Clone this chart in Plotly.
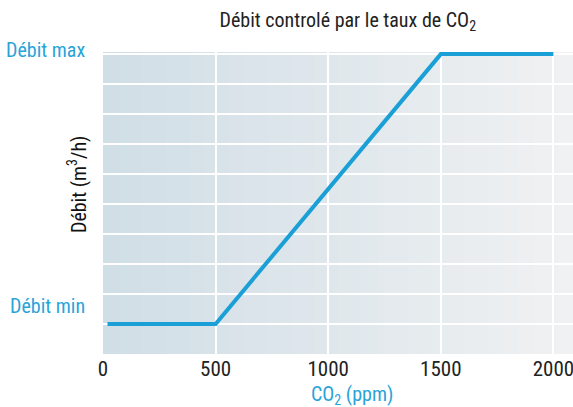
import plotly.graph_objects as go

# Data
co2_ppm = [20, 500, 1500, 2000]
debit = [1, 1, 10, 10]
x_ticks = [0, 500, 1000, 1500, 2000]
y_labels = ["Débit min", "Débit max"]

FONT = "Liberation Sans Narrow, Roboto Condensed, Roboto, sans-serif"
BLUE = "#1a9fd6"
LBLUE = "#2aa3d8"

fig = go.Figure()
fig.add_trace(go.Scatter(x=co2_ppm, y=debit, mode="lines",
                         line=dict(color=BLUE, width=4), hoverinfo="skip"))

# gradient background strips
n = 60
c0 = (208, 222, 230)
c1 = (240, 241, 242)
shapes = []
for i in range(n):
    t = i / (n - 1)
    c = tuple(int(round(c0[k] + (c1[k] - c0[k]) * t)) for k in range(3))
    shapes.append(dict(type="rect", xref="paper", yref="paper",
                       x0=i / n, x1=(i + 1) / n + 0.002, y0=0, y1=1,
                       fillcolor="rgb(%d,%d,%d)" % c, line=dict(width=0),
                       layer="below"))

label_paper_y = [0.159, 1.007]
annotations = []
for lab, yy in zip(y_labels, label_paper_y):
    annotations.append(dict(text=lab, xref="paper", yref="paper", x=-0.034, y=yy,
                            xanchor="right", yanchor="middle", showarrow=False,
                            font=dict(family=FONT, size=20, color=LBLUE)))
annotations.append(dict(text="Débit (m<sup>3</sup>/h)", xref="paper", yref="paper",
                        x=-0.055, y=0.56, textangle=-90, showarrow=False,
                        xanchor="center", yanchor="middle",
                        font=dict(family=FONT, size=20, color="#111111")))
annotations.append(dict(text="CO<sub>2</sub> (ppm)", xref="paper", yref="paper",
                        x=0.53, y=-0.135, showarrow=False,
                        xanchor="center", yanchor="middle",
                        font=dict(family=FONT, size=20, color=LBLUE)))

fig.update_layout(
    width=573, height=407,
    margin=dict(l=103, r=0, t=52, b=53),
    paper_bgcolor="white",
    plot_bgcolor="rgba(0,0,0,0)",
    showlegend=False,
    title=dict(text="Débit controlé par le taux de CO<sub>2</sub>",
               x=0.607, xanchor="center", y=0.951, yanchor="middle",
               font=dict(family=FONT, size=20, color="#222222")),
    shapes=shapes,
    annotations=annotations,
    xaxis=dict(range=[0, 2087], tickvals=x_ticks, showgrid=True,
               gridcolor="white", gridwidth=1.5, zeroline=False, showline=False,
               ticks="", tickfont=dict(family=FONT, size=21, color="#222222"),
               ticklabeloverflow="allow", layer="above traces"),
    yaxis=dict(range=[0, 10.07], dtick=1, showgrid=True, gridcolor="white",
               gridwidth=1.5, zeroline=False, showline=False,
               showticklabels=False, ticks=""),
)

fig.write_html("out.html", config={"displayModeBar": False},
               post_script="document.body.style.margin='0';document.body.style.overflow='hidden';")
